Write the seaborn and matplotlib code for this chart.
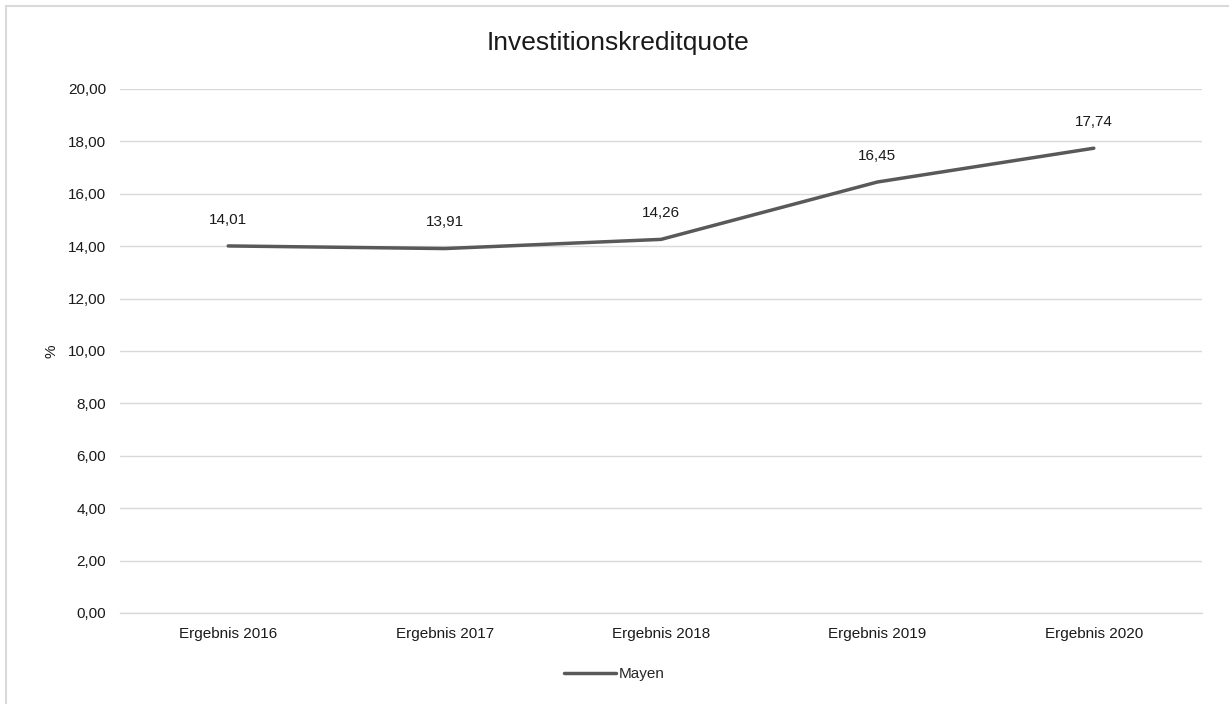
import matplotlib
matplotlib.use("Agg")
import matplotlib.pyplot as plt
import seaborn as sns
import pandas as pd
from matplotlib.patches import Rectangle

categories = ["Ergebnis 2016", "Ergebnis 2017", "Ergebnis 2018", "Ergebnis 2019", "Ergebnis 2020"]
values = [14.01, 13.91, 14.26, 16.45, 17.74]
series_name = "Mayen"
yticks = [0, 2, 4, 6, 8, 10, 12, 14, 16, 18, 20]

sns.set_theme(style="white")
plt.rcParams["font.family"] = ["Liberation Sans", "DejaVu Sans"]

df = pd.DataFrame({"Jahr": categories, "Wert": values, "Gebiet": series_name})
df["pos"] = range(len(categories))

W, H = 1229, 704
fig = plt.figure(figsize=(W / 100, H / 100), dpi=100)
ax = fig.add_axes([120 / W, 1 - 613 / H, (1202 - 120) / W, (613 - 89) / H])

sns.lineplot(data=df, x="pos", y="Wert", hue="Gebiet", palette=["#595959"],
             linewidth=2.5, ax=ax, legend=False)

ax.set_xlim(-0.5, len(categories) - 0.5)
ax.set_ylim(0, 20)
ax.set_yticks(yticks)
ax.set_yticklabels([f"{v:.2f}".replace(".", ",") for v in yticks], fontsize=11, color="#1a1a1a")
ax.set_xticks(range(len(categories)))
ax.set_xticklabels(categories, fontsize=11, color="#1a1a1a")
ax.tick_params(axis="y", length=0, pad=10)
ax.tick_params(axis="x", length=0, pad=10)
ax.grid(axis="y", color="#d9d9d9", linewidth=1)
ax.set_axisbelow(True)
for name, s in ax.spines.items():
    if name == "bottom":
        s.set_color("#d9d9d9")
        s.set_linewidth(1)
    else:
        s.set_visible(False)
ax.set_xlabel("")
ax.set_ylabel("%", fontsize=11, color="#1a1a1a", labelpad=7)

for i, v in enumerate(values):
    ax.annotate(f"{v:.2f}".replace(".", ","), (i, v), xytext=(0, 19),
                textcoords="offset points", ha="center", va="center",
                fontsize=11, color="#1a1a1a")

fig.text(618 / W, 1 - 43 / H, "Investitionskreditquote", ha="center", va="center",
         fontsize=19, color="#1a1a1a")

handle = plt.Line2D([], [], color="#595959", linewidth=2.5)
fig.legend([handle], [series_name], loc="center", bbox_to_anchor=(0.5, 1 - 674 / H),
           frameon=False, fontsize=11, handlelength=3.4, handletextpad=0.2)

fig.patches.append(Rectangle((6 / W, -0.1), 1.2, 1.1 - 6 / H, transform=fig.transFigure,
                             fill=False, edgecolor="#d9d9d9", linewidth=1.5, figure=fig))

fig.savefig("out.png", dpi=100, facecolor="white")
